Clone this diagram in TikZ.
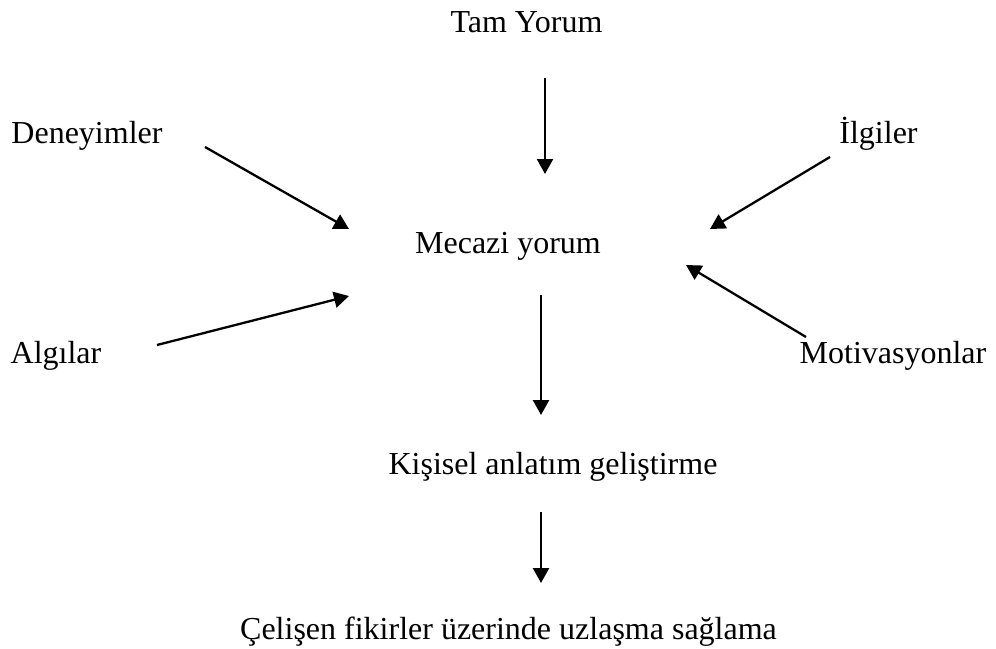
\documentclass[tikz,border=0pt]{standalone}
\usepackage{fontspec}
\setmainfont{Liberation Serif}
\usetikzlibrary{arrows.meta}
\begin{document}
\begin{tikzpicture}[x=1pt,y=-1pt,
  lbl/.style={font=\fontsize{32}{38}\selectfont, inner sep=0pt, anchor=base},
  arr/.style={line width=2.3pt,-{Triangle[length=15pt,width=16pt]}}]
\useasboundingbox[fill=white] (0,0) rectangle (996,648);
\node[lbl] (tam) at (526.5,32) {Tam Yorum};
\node[lbl] (den) at (87,143) {Deneyimler};
\node[lbl] (ilg) at (878.5,143) {İlgiler};
\node[lbl] (mec) at (508,253) {Mecazi yorum};
\node[lbl] (alg) at (56,363) {Algılar};
\node[lbl] (mot) at (893,363) {Motivasyonlar};
\node[lbl] (kis) at (553,474) {Kişisel anlatım geliştirme};
\node[lbl] (cel) at (508.5,639) {Çelişen fikirler üzerinde uzlaşma sağlama};
\coordinate (a1s) at (545,78);  \coordinate (a1e) at (545,174);
\coordinate (a2s) at (205,147); \coordinate (a2e) at (349,229);
\coordinate (a3s) at (157,345); \coordinate (a3e) at (349,296);
\coordinate (a4s) at (830,157); \coordinate (a4e) at (710,229);
\coordinate (a5s) at (806,337); \coordinate (a5e) at (686,265);
\coordinate (a6s) at (541,295); \coordinate (a6e) at (541,415);
\coordinate (a7s) at (541,512); \coordinate (a7e) at (541,583);
\draw[arr] (a1s) -- (a1e);
\draw[arr] (a2s) -- (a2e);
\draw[arr] (a3s) -- (a3e);
\draw[arr] (a4s) -- (a4e);
\draw[arr] (a5s) -- (a5e);
\draw[arr] (a6s) -- (a6e);
\draw[arr] (a7s) -- (a7e);
\end{tikzpicture}
\end{document}
